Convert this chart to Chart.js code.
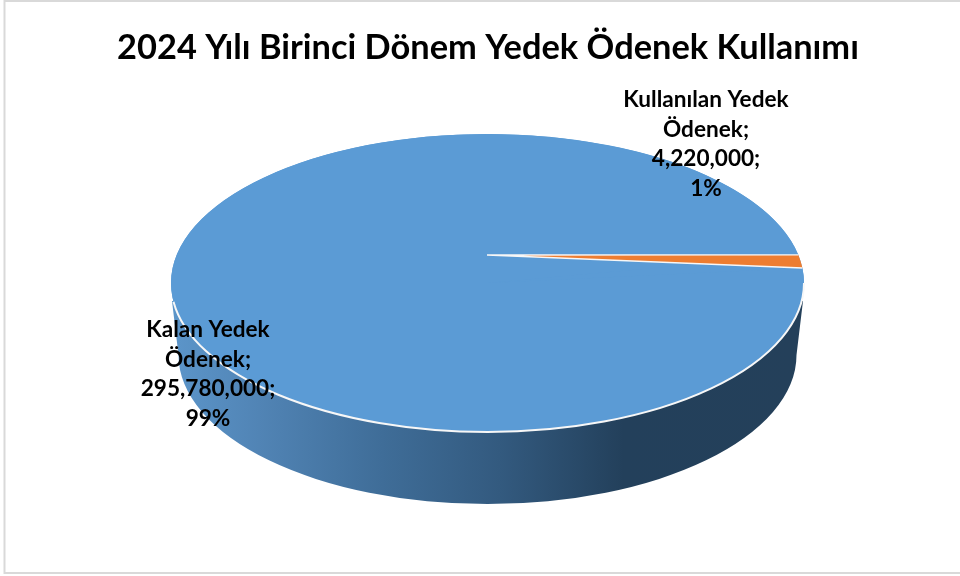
<!DOCTYPE html>
<html><head><meta charset="utf-8">
<style>html,body{margin:0;padding:0;background:#fff}#w{width:960px;height:576px;position:relative}</style>
<script src="https://cdn.jsdelivr.net/npm/chart.js@4"></script></head>
<body><div id="w"><canvas id="c" width="960" height="576"></canvas></div>
<script>
const titleText = "2024 Yılı Birinci Dönem Yedek Ödenek Kullanımı";
const categories = ["Kalan Yedek Ödenek", "Kullanılan Yedek Ödenek"];
const values = [295780000, 4220000];
const percents = ["99%", "1%"];
const sliceColors = ["#5B9BD5", "#ED7D31"];
const labelLines = [["Kalan Yedek", "Ödenek;"], ["Kullanılan Yedek", "Ödenek;"]];
const labelCenters = [[208, 330], [706, 100]];
const FONT = "Lato, Carlito, sans-serif";
const top3d = {cx: 487.5, cy: 283, rx: 316.5, ry: 149};
const bottom3d = {cx: 487.5, cy: 355, rx: 309, ry: 149};
const apex = [487, 255];
const sideStops = [[0,"#5B94C8"],[0.13,"#5184B5"],[0.33,"#3F6D98"],[0.52,"#335A7F"],[0.72,"#23405B"],[1,"#24405A"]];

function ellipsePoint(angle){
  return [top3d.cx + top3d.rx*Math.cos(angle), top3d.cy + top3d.ry*Math.sin(angle)];
}
const pie3d = {
  id: "pie3d",
  beforeDraw(chart){
    const ctx = chart.ctx;
    ctx.save();
    ctx.strokeStyle = "#D9D9D9"; ctx.lineWidth = 2;
    ctx.strokeRect(4.5, 1, 960, 572);
    ctx.restore();
  },
  beforeDatasetsDraw(chart){
    const ctx = chart.ctx;
    const g = ctx.createLinearGradient(bottom3d.cx-bottom3d.rx, 0, bottom3d.cx+bottom3d.rx, 0);
    sideStops.forEach(s => g.addColorStop(s[0], s[1]));
    ctx.save();
    ctx.beginPath();
    ctx.moveTo(top3d.cx+top3d.rx-1, top3d.cy+18);
    ctx.ellipse(bottom3d.cx, bottom3d.cy, bottom3d.rx, bottom3d.ry, 0, 0, Math.PI);
    ctx.lineTo(top3d.cx-top3d.rx+1, top3d.cy+18);
    ctx.closePath();
    ctx.fillStyle = g; ctx.fill();
    ctx.beginPath();
    ctx.ellipse(top3d.cx, top3d.cy, top3d.rx, top3d.ry, 0, 0, Math.PI*2);
    ctx.fillStyle = sliceColors[0]; ctx.fill();
    ctx.restore();
    const meta = chart.getDatasetMeta(0);
    meta.data.forEach((el, i) => {
      if (el._wrapped) return;
      el._wrapped = true;
      const draw = el.draw.bind(el);
      el.draw = function(c){
        const r = el.outerRadius;
        c.save();
        if (i === 0) {
          c.translate(top3d.cx, top3d.cy);
          c.scale(top3d.rx/r, top3d.ry/r);
          c.translate(-el.x, -el.y);
        } else {
          const p1 = ellipsePoint(el.startAngle), p2 = ellipsePoint(el.endAngle);
          const u1 = [r*Math.cos(el.startAngle), r*Math.sin(el.startAngle)];
          const u2 = [r*Math.cos(el.endAngle), r*Math.sin(el.endAngle)];
          const v1 = [p1[0]-apex[0], p1[1]-apex[1]], v2 = [p2[0]-apex[0], p2[1]-apex[1]];
          const det = u1[0]*u2[1]-u1[1]*u2[0];
          const a = (v1[0]*u2[1]-v2[0]*u1[1])/det, cc = (v2[0]*u1[0]-v1[0]*u2[0])/det;
          const b = (v1[1]*u2[1]-v2[1]*u1[1])/det, d = (v2[1]*u1[0]-v1[1]*u2[0])/det;
          c.transform(a, b, cc, d, apex[0], apex[1]);
          c.translate(-el.x, -el.y);
        }
        draw(c);
        c.restore();
      };
    });
  },
  afterDatasetsDraw(chart){
    const ctx = chart.ctx, el = chart.getDatasetMeta(0).data[1];
    const p1 = ellipsePoint(el.startAngle), p2 = ellipsePoint(el.endAngle);
    ctx.save();
    ctx.strokeStyle = "#F7F7F7"; ctx.lineWidth = 2;
    ctx.beginPath();
    ctx.ellipse(top3d.cx, top3d.cy, top3d.rx, top3d.ry, 0, 0, Math.PI*0.96);
    ctx.stroke();
    ctx.lineWidth = 1.4;
    ctx.beginPath();
    ctx.moveTo(p1[0], p1[1]); ctx.lineTo(apex[0], apex[1]); ctx.lineTo(p2[0], p2[1]);
    ctx.stroke();
    ctx.fillStyle = "#000"; ctx.textAlign = "center"; ctx.textBaseline = "middle";
    ctx.font = "bold 22.6px " + FONT;
    categories.forEach((_, i) => {
      const lines = [...labelLines[i], values[i].toLocaleString("en-US") + ";", percents[i]];
      lines.forEach((t, k) => ctx.fillText(t, labelCenters[i][0], labelCenters[i][1] + k*29.6));
    });
    ctx.restore();
  }
};
new Chart(document.getElementById("c"), {
  type: "pie",
  data: { labels: categories, datasets: [{ data: values, backgroundColor: sliceColors, borderWidth: 0 }] },
  options: {
    responsive: false, animation: false, rotation: 84.2,
    layout: { padding: { left: 16, right: 0, top: 10, bottom: 10 } },
    plugins: {
      legend: { display: false }, tooltip: { enabled: false },
      title: { display: true, text: titleText, color: "#000",
        font: { family: FONT, size: 34.4, weight: "bold" }, padding: { top: 17, bottom: 10 } }
    }
  },
  plugins: [pie3d]
});
</script></body></html>
